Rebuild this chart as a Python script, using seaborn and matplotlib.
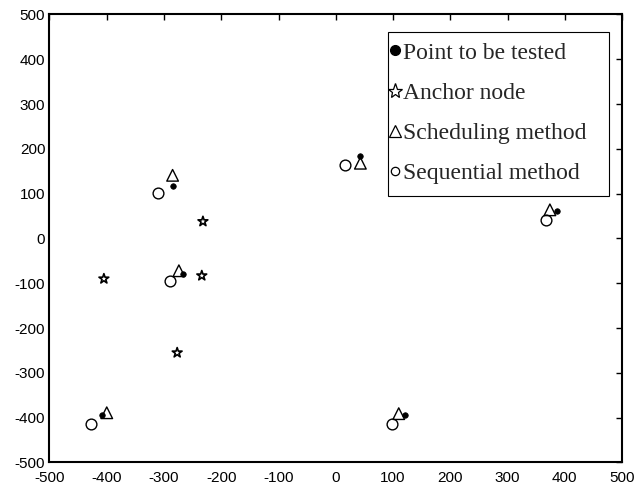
import matplotlib
matplotlib.use("Agg")
import matplotlib.pyplot as plt
from matplotlib.lines import Line2D
from matplotlib.patches import Rectangle
import seaborn as sns

tested_x = [-285, -267, -409, 121, 43, 386]
tested_y = [117, -79, -395, -393, 184, 61]
anchor_x = [-232, -234, -405, -277]
anchor_y = [38, -83, -90, -255]
sched_x = [-285, -274, -400, 110, 43, 374]
sched_y = [141, -72, -389, -391, 168, 64]
seq_x = [-310, -290, -427, 99, 16, 368]
seq_y = [101, -94, -414, -414, 165, 41]

labels = ["Point to be tested", "Anchor node", "Scheduling method", "Sequential method"]
ticks = [-500, -400, -300, -200, -100, 0, 100, 200, 300, 400, 500]

sns.set_theme(style="white")
plt.rcParams["font.family"] = ["Liberation Sans", "DejaVu Sans"]
plt.rcParams["axes.unicode_minus"] = False

fig = plt.figure(figsize=(6.37, 4.86), dpi=100)
ax = fig.add_axes([0.0777, 0.0484, 0.8988, 0.9218])

sns.scatterplot(x=seq_x, y=seq_y, ax=ax, marker="o", s=60, facecolor="white",
                edgecolor="black", linewidth=1.0, zorder=3)
sns.scatterplot(x=sched_x, y=sched_y, ax=ax, marker="^", s=70, facecolor="none",
                edgecolor="black", linewidth=1.0, zorder=4)
sns.scatterplot(x=tested_x, y=tested_y, ax=ax, marker="o", s=16, color="black",
                edgecolor="black", linewidth=0.5, zorder=5)
sns.scatterplot(x=anchor_x, y=anchor_y, ax=ax, marker="*", s=55, facecolor="none",
                edgecolor="black", linewidth=1.2, zorder=4)

ax.set_xlim(-500, 500)
ax.set_ylim(-500, 500)
ax.set_xticks(ticks)
ax.set_yticks(ticks)
ax.tick_params(direction="in", length=4, width=1, top=True, right=True,
               labelsize=11, colors="black")
ax.tick_params(axis="x", pad=6)
ax.tick_params(axis="y", pad=3)
ax.tick_params(axis="both", which="both", labeltop=False, labelright=False)
for sp in ax.spines.values():
    sp.set_color("black")
    sp.set_linewidth(1.5)

# legend frame
ax.add_patch(Rectangle((0.5913, 0.5949), 0.386, 0.3667, transform=ax.transAxes,
                       facecolor="white", edgecolor="black", linewidth=0.8, zorder=6))

handles = [
    Line2D([], [], linestyle="none", marker="o", markersize=7, color="black"),
    Line2D([], [], linestyle="none", marker="*", markersize=11, markerfacecolor="none",
           markeredgecolor="black", markeredgewidth=0.9),
    Line2D([], [], linestyle="none", marker="^", markersize=9, markerfacecolor="none",
           markeredgecolor="black", markeredgewidth=0.9),
    Line2D([], [], linestyle="none", marker="o", markersize=6, markerfacecolor="none",
           markeredgecolor="black", markeredgewidth=0.9),
]
leg = ax.legend(handles, labels, loc="upper left", bbox_to_anchor=(0.586, 0.9542),
                prop={"family": ["Liberation Serif", "DejaVu Serif"], "size": 17},
                handlelength=0.25, handletextpad=0.2, labelspacing=0.79,
                borderpad=0.3, borderaxespad=0, frameon=False)
leg.set_zorder(7)

fig.savefig("out.png", dpi=100)
